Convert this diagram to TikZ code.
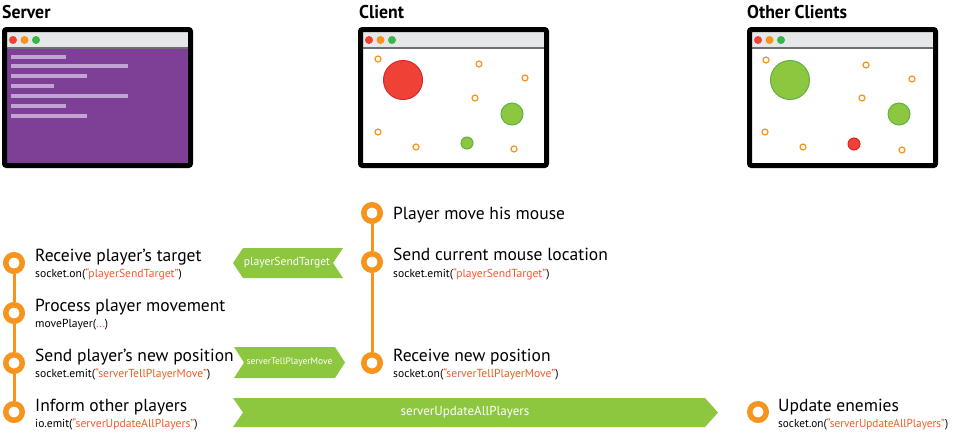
\documentclass[tikz,border=0pt]{standalone}
\usepackage{fontspec}
\setmainfont{PT Sans}
\definecolor{orng}{HTML}{F7941D}
\definecolor{txo}{HTML}{F15A24}
\definecolor{grn}{HTML}{8DC63F}
\definecolor{grnbd}{HTML}{5FB246}
\definecolor{dred}{HTML}{EF4136}
\definecolor{redbd}{HTML}{D9262E}
\definecolor{dgrn}{HTML}{39B54A}
\definecolor{purp}{HTML}{7E3F96}
\definecolor{barc}{HTML}{C1A4D2}
\definecolor{tbar}{HTML}{E6E7E8}
\definecolor{tline}{HTML}{6D6E71}
\newcommand\hl[1]{\textcolor{txo}{#1}}
\newcommand\winframe[2]{%
  \fill[#2] (#1+5,32) rectangle (#1+186,163);
  \fill[tbar] (#1+5,32) rectangle (#1+186,48);
  \draw[tline,line width=1.2pt] (#1+5,48) -- (#1+186,48);
  \draw[line width=5pt,rounded corners=2pt] (#1+2.5,29.5) rectangle (#1+188.5,165.5);
  \fill[dred] (#1+11,40) circle (4);
  \fill[orng] (#1+22.5,40) circle (4);
  \fill[dgrn] (#1+34,40) circle (4);
}
\begin{document}
\begin{tikzpicture}[x=1pt,y=-1pt,
  ring/.style={circle,draw=orng,line width=5.5pt,fill=white,minimum size=16.5pt,inner sep=0pt},
  tl/.style={draw=orng,line width=3pt},
  mainlbl/.style={anchor=base west,inner sep=0pt,font=\fontsize{17.5}{17.5}\selectfont},
  sublbl/.style={anchor=base west,inner sep=0pt,font=\fontsize{11.6}{11.6}\selectfont},
  ttl/.style={anchor=base west,inner sep=0pt,font=\fontsize{18.5}{18.5}\selectfont\bfseries},
  arrtxt/.style={inner sep=0pt,text=white},
  dotring/.style={draw=orng,line width=1.2pt,fill=white},
  gball/.style={fill=grn,draw=grnbd,line width=1pt},
  rball/.style={fill=dred,draw=redbd,line width=1pt}]
\useasboundingbox (0,0) rectangle (957,432);

% titles
\node[ttl] (tserver) at (2,18) {\scalebox{0.96}[1]{Server}};
\node[ttl] (tclient) at (359,18) {\scalebox{0.96}[1]{Client}};
\node[ttl] (tother) at (747,18) {\scalebox{0.96}[1]{Other Clients}};

% server window
\winframe{2}{purp}
\foreach \y/\l in {57/66,66/128,76/87,86/54,96/128,106/66,116/87}{
  \fill[barc] (11,\y-2) rectangle (\l,\y+2);
}

% client window
\winframe{358}{white}
\foreach \p in {(378,59),(479,64),(525,78),(475,98),(378,132),(416,147),(514,149)}{
  \draw[dotring] \p circle (3);
}
\draw[rball] (403,80) circle (19.5);
\draw[gball] (512,114) circle (11);
\draw[gball] (467,143) circle (6);

% other clients window
\winframe{747}{white}
\foreach \p in {(766,60),(866,65),(912,79),(862,98),(765,132),(803,147),(902,150)}{
  \draw[dotring] \p circle (3);
}
\draw[gball] (790,80) circle (19.5);
\draw[gball] (899,114) circle (11);
\draw[rball] (854,144) circle (6);

% server timeline
\node[ring] (s1) at (14,263) {};
\node[ring] (s2) at (14,313) {};
\node[ring] (s3) at (14,363) {};
\node[ring] (s4) at (14,412) {};
\draw[tl] (s1) -- (s2);
\draw[tl] (s2) -- (s3);
\draw[tl] (s3) -- (s4);

\node[mainlbl] (s1t) at (35,261) {Receive player’s target};
\node[sublbl] (s1s) at (35,277) {socket.on(\hl{“playerSendTarget”})};
\node[mainlbl] (s2t) at (35,311) {Process player movement};
\node[sublbl] (s2s) at (35,327) {movePlayer(\hl{...})};
\node[mainlbl] (s3t) at (35,361) {Send player’s new position};
\node[sublbl] (s3s) at (35,377) {socket.emit(\hl{“serverTellPlayerMove”})};
\node[mainlbl] (s4t) at (35,411) {Inform other players};
\node[sublbl] (s4s) at (35,427) {io.emit(\hl{“serverUpdateAllPlayers”})};

% client timeline
\node[ring] (c1) at (372,213) {};
\node[ring] (c2) at (372,262) {};
\node[ring] (c3) at (372,363) {};
\draw[tl] (c1) -- (c2);
\draw[tl] (c2) -- (c3);

\node[mainlbl] (c1t) at (393,219) {Player move his mouse};
\node[mainlbl] (c2t) at (393,260) {Send current mouse location};
\node[sublbl] (c2s) at (393,277) {socket.emit(\hl{“playerSendTarget”})};
\node[mainlbl] (c3t) at (393,361) {Receive new position};
\node[sublbl] (c3s) at (393,377) {socket.on(\hl{“serverTellPlayerMove”})};

% other clients
\node[ring] (o1) at (758,412) {};
\node[mainlbl] (o1t) at (778,411) {Update enemies};
\node[sublbl] (o1s) at (778,427) {\scalebox{0.97}[1]{socket.on(\hl{“serverUpdateAllPlayers”})}};

% green message arrows
\fill[grn] (243,248) -- (343,248) -- (333,263) -- (343,278) -- (243,278) -- (233,263) -- cycle;
\node[arrtxt,font=\fontsize{11.6}{11.6}\selectfont] (a1) at (287,263) {playerSendTarget};
\fill[grn] (234,347) -- (335,347) -- (345,362.5) -- (335,378) -- (234,378) -- (244,362.5) -- cycle;
\node[arrtxt,font=\fontsize{9.5}{9.5}\selectfont] (a2) at (289.5,362.5) {serverTellPlayerMove};
\fill[grn] (233,398) -- (705,398) -- (718,412.5) -- (705,427) -- (233,427) -- (243,412.5) -- cycle;
\node[arrtxt,font=\fontsize{13}{13}\selectfont] (a3) at (465,412.5) {serverUpdateAllPlayers};
\end{tikzpicture}
\end{document}
